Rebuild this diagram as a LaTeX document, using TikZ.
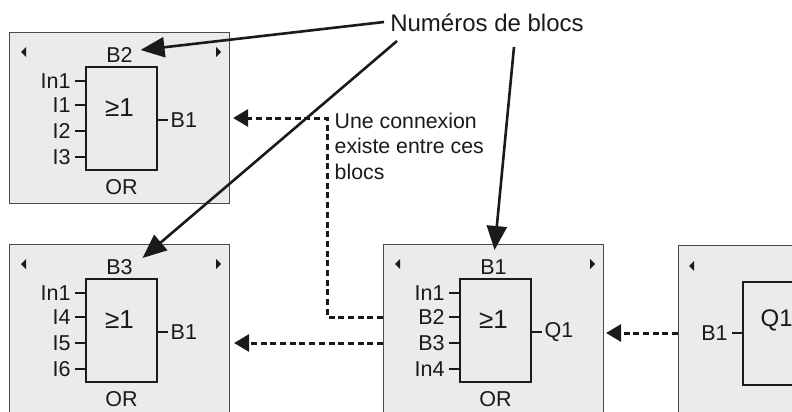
\documentclass[tikz,border=0pt]{standalone}
\usepackage{fontspec}
\setmainfont{Liberation Sans}
\usetikzlibrary{calc,arrows.meta}
\definecolor{panelfill}{HTML}{EBEBEB}
\definecolor{panelline}{HTML}{4A4A4A}
\definecolor{ink}{HTML}{1A1A1A}
\tikzset{
  panel/.style={draw=panelline,line width=1.1pt,fill=panelfill,minimum width=220pt,minimum height=171pt,inner sep=0pt},
  gate/.style={draw=ink,line width=1.8pt,minimum width=71pt,minimum height=103pt,inner sep=0pt},
  lab/.style={font=\fontsize{21.5}{25}\selectfont,text=ink,inner sep=1.5pt},
  inlab/.style={lab,anchor=east,inner xsep=3.5pt},
  outlab/.style={lab,anchor=west,inner xsep=2pt},
  sym/.style={lab,font=\fontsize{26}{30}\selectfont},
  tick/.style={draw=ink,line width=1.8pt},
  tri/.style={fill=ink},
  bigarrow/.style={draw=ink,line width=2.6pt,-{Triangle[length=24pt,width=20pt]}},
  dasharrow/.style={draw=ink,line width=3pt,dash pattern=on 6pt off 3.7pt,-{Triangle[length=15pt,width=17pt]}},
}
\newcommand\orblock[9]{%
  \node[panel,anchor=north west] (#1) at (#2,#3) {};
  \node[gate,anchor=north west] (#1g) at ($(#1.north west)+(76,34)$) {};
  \node[lab] (#1t) at ($(#1.north)+(0,23)$) {#4};
  \node[lab] (#1or) at ($(#1g.south)+(0,16)$) {OR};
  \node[sym] (#1sym) at ($(#1g.north)+(-2,42)$) {≥1};
  \fill[tri] ($(#1.north west)+(12,20)$) -- ++(5,-5) -- ++(0,10) -- cycle;
  \fill[tri] ($(#1.north east)+(-9,20)$) -- ++(-5,-5) -- ++(0,10) -- cycle;
  \draw[tick] ($(#1g.north west)+(0,15)$) -- ++(-10,0) node[inlab] (#1ia) {#5};
  \draw[tick] ($(#1g.north west)+(0,39)$) -- ++(-10,0) node[inlab] (#1ib) {#6};
  \draw[tick] ($(#1g.north west)+(0,65)$) -- ++(-10,0) node[inlab] (#1ic) {#7};
  \draw[tick] ($(#1g.north west)+(0,91)$) -- ++(-10,0) node[inlab] (#1id) {#8};
  \draw[tick] ($(#1g.north east)+(0,54)$) -- ++(10,0) node[outlab] (#1o) {#9};
}
\begin{document}
\begin{tikzpicture}[x=1pt,y=-1pt]
\useasboundingbox (0,0) rectangle (792,412);
\clip (0,0) rectangle (792,412);
\fill[white] (0,0) rectangle (792,412);

\orblock{PB}{9}{32}{B2}{In1}{I1}{I2}{I3}{B1}
\orblock{PC}{9}{244}{B3}{In1}{I4}{I5}{I6}{B1}
\orblock{PA}{383}{244}{B1}{In1}{B2}{B3}{In4}{Q1}

% output block (partly outside the picture)
\node[panel,anchor=north west] (PQ) at (678,245) {};
\node[gate,anchor=north west,minimum width=100pt] (PQg) at (742,281) {};
\node[sym,anchor=west,font=\fontsize{24}{28}\selectfont] (PQsym) at ($(PQg.north west)+(17,39)$) {Q1};
\fill[tri] ($(PQ.north west)+(11,21)$) -- ++(5,-5) -- ++(0,10) -- cycle;
\draw[tick] ($(PQg.north west)+(0,52)$) -- ++(-10,0) node[inlab] (PQi) {B1};

% connections
\draw[dasharrow,shorten >=2pt] (PQ.west |- PQi) -- (PA.east |- PQi);
\draw[dasharrow,shorten >=4pt] (PA.west |- PAic) -- (PC.east |- PAic);
\draw[dasharrow,shorten >=3pt] (PA.west |- PAib) -- ++(-56,0) |- ($(PB.east |- PBo)+(0,-2)$);

\node[lab,anchor=north west,align=left,font=\fontsize{21.3}{25.5}\selectfont] (note) at (333,111) {Une connexion\\existe entre ces\\blocs};

% block number labels
\node[lab,font=\fontsize{24}{28}\selectfont] (num) at (487,23) {Numéros de blocs};
\coordinate (s1) at (384,22);
\coordinate (s2) at (397,41);
\coordinate (s3) at (514,47);
\draw[bigarrow] (s1) -- ($(PBt.center)+(21,-5)$);
\draw[bigarrow] (s2) -- ($(PCt.center)+(23,-9)$);
\draw[bigarrow] (s3) -- ($(PAt.center)+(1,-17)$);
\end{tikzpicture}
\end{document}
